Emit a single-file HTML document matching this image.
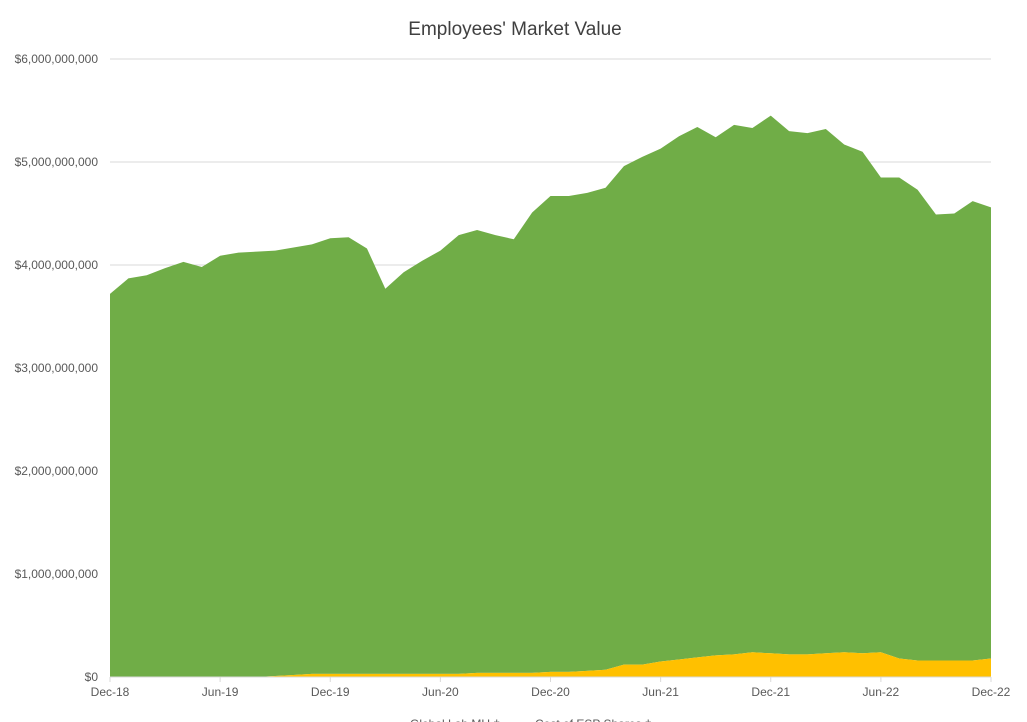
<!DOCTYPE html>
<html><head><meta charset="utf-8"><style>
html,body{margin:0;padding:0;background:#fff;overflow:hidden;}
svg{display:block;font-family:"Liberation Sans",sans-serif;}
</style></head><body>
<svg id="chart" width="1027" height="722" viewBox="0 0 1027 722">
<rect x="0" y="0" width="1027" height="722" fill="#fff"/>
<text x="515" y="35" text-anchor="middle" font-size="19" fill="#404040">Employees' Market Value</text>
<g id="grid"></g><g id="areas"></g><g id="axes"></g>
<g font-size="12" fill="#595959">
<text x="410" y="728">Global Lab MU ‡</text>
<text x="535" y="728">Cost of ESP Shares ‡</text>
</g>
</svg>
<script>
const ns="http://www.w3.org/2000/svg";
const yTicks=[0,1,2,3,4,5,6];
const yTickLabels=["$0","$1,000,000,000","$2,000,000,000","$3,000,000,000","$4,000,000,000","$5,000,000,000","$6,000,000,000"];
const xTickIdx=[0,6,12,18,24,30,36,42,48];
const xTickLabels=["Dec-18","Jun-19","Dec-19","Jun-20","Dec-20","Jun-21","Dec-21","Jun-22","Dec-22"];
// billions, stacked components
const espShares=[0,0,0,0,0,0,0,0,0,0.01,0.02,0.03,0.03,0.03,0.03,0.03,0.03,0.03,0.03,0.03,0.04,0.04,0.04,0.04,0.05,0.05,0.06,0.07,0.12,0.12,0.15,0.17,0.19,0.21,0.22,0.24,0.23,0.22,0.22,0.23,0.24,0.23,0.24,0.18,0.16,0.16,0.16,0.16,0.18];
const globalMU=[3.72,3.87,3.90,3.97,4.03,3.98,4.09,4.12,4.13,4.13,4.15,4.17,4.23,4.24,4.13,3.74,3.90,4.01,4.11,4.26,4.30,4.25,4.21,4.47,4.62,4.62,4.64,4.68,4.84,4.93,4.98,5.08,5.15,5.03,5.14,5.09,5.22,5.08,5.06,5.09,4.93,4.87,4.61,4.67,4.57,4.33,4.34,4.46,4.38];
const X0=110,X1=991,Y0=677,YTOP=59,YMAX=6;
const n=globalMU.length;
const xs=i=>X0+(X1-X0)*i/(n-1);
const ys=v=>Y0-(Y0-YTOP)*v/YMAX;
function mk(tag,attrs,parent){const e=document.createElementNS(ns,tag);for(const k in attrs)e.setAttribute(k,attrs[k]);parent.appendChild(e);return e;}
const gridG=document.getElementById('grid'),areasG=document.getElementById('areas'),axesG=document.getElementById('axes');
yTicks.forEach((t,i)=>{
  if(t>0){const l=mk('line',{x1:X0,x2:X1,y1:ys(t),y2:ys(t),stroke:'#d9d9d9','stroke-width':1},gridG);
  
  }
  const tx=mk('text',{x:98,y:ys(t)+4,'text-anchor':'end','font-size':12,fill:'#595959'},axesG);
  tx.textContent=yTickLabels[i];
  
  
});
const totals=espShares.map((v,i)=>v+globalMU[i]);
function areaPath(lower,upper){let d='M'+xs(0)+','+ys(upper[0]);for(let i=1;i<n;i++)d+=' L'+xs(i)+','+ys(upper[i]);for(let i=n-1;i>=0;i--)d+=' L'+xs(i)+','+ys(lower[i]);return d+'Z';}
const zeros=espShares.map(()=>0);
const gPath=mk('path',{d:areaPath(espShares,totals),fill:'#70ad47'},areasG);


const yPath=mk('path',{d:areaPath(zeros,espShares),fill:'#ffc000'},areasG);


const ax=mk('line',{x1:X0,x2:X1,y1:Y0,y2:Y0,stroke:'#d9d9d9','stroke-width':1},axesG);


xTickIdx.forEach((ix,i)=>{
  const tk=mk('line',{x1:xs(ix),x2:xs(ix),y1:Y0,y2:Y0+5,stroke:'#d9d9d9'},axesG);
  
  
  const tx=mk('text',{x:xs(ix),y:Y0+19,'text-anchor':'middle','font-size':12,fill:'#595959'},axesG);
  tx.textContent=xTickLabels[i];
  
  
});
</script>
</body></html>
